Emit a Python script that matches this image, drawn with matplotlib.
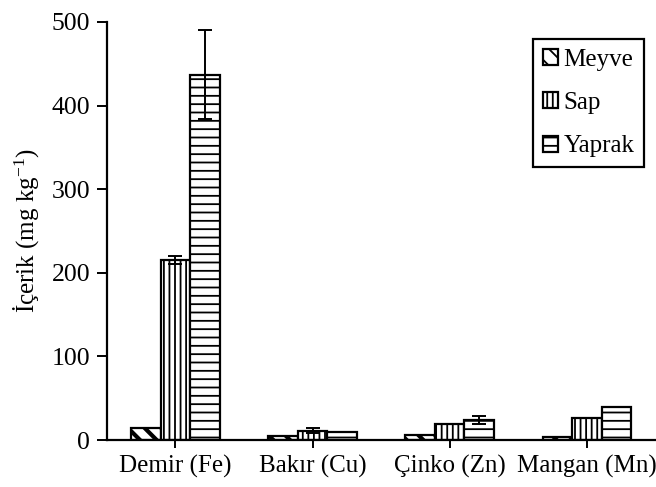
import numpy as np
import matplotlib.pyplot as plt

plt.rcParams['font.family'] = ['Liberation Serif', 'DejaVu Serif']
plt.rcParams['mathtext.fontset'] = 'custom'
plt.rcParams['mathtext.rm'] = 'Liberation Serif'
plt.rcParams['mathtext.default'] = 'regular'
plt.rcParams['hatch.linewidth'] = 1.3

elements = ['Demir (Fe)', 'Bakır (Cu)', 'Çinko (Zn)', 'Mangan (Mn)']
meyve = [14, 5, 6, 3]
sap = [215, 11, 19, 26]
yaprak = [437, 9, 24, 40]
sap_err = [5, 3, 0, 0]
yaprak_err = [53, 0, 5, 0]

fig = plt.figure(figsize=(6.56, 4.87), dpi=100)
ax = fig.add_axes([0.163, 0.0965, 0.836, 0.8585])

x = np.arange(len(elements))
width = 0.215

# thick diagonal stripes for the fruit bars
with plt.rc_context({'hatch.linewidth': 3.0}):
    ax.bar(x - width, meyve, width, color='white', edgecolor='black', linewidth=1.6,
           hatch='\\\\', label='Meyve')
ax.bar(x, sap, width, color='white', edgecolor='black', linewidth=1.6,
       hatch='|||', label='Sap')
ax.bar(x + width, yaprak, width, color='white', edgecolor='black', linewidth=1.6,
       hatch='--', label='Yaprak')

# error bars only where a deviation was given
for xs, vals, errs in [(x, sap, sap_err), (x + width, yaprak, yaprak_err)]:
    for xi, v, e in zip(xs, vals, errs):
        if e > 0:
            ax.errorbar(xi, v, yerr=e, color='black', capsize=5, elinewidth=1.4,
                        capthick=1.4, zorder=5)

ax.set_xlim(-0.5, 3.5)
ax.set_ylim(0, 500)
ax.set_yticks(np.arange(0, 501, 100))
ax.set_xticks(x)
ax.set_xticklabels(elements, fontsize=18)
ax.tick_params(axis='y', labelsize=18.5, length=7, width=1.4, direction='out', pad=5)
ax.tick_params(axis='x', length=6, width=1.4, direction='out', pad=5)
ax.spines['top'].set_visible(False)
ax.spines['right'].set_visible(False)
ax.spines['left'].set_linewidth(1.6)
ax.spines['bottom'].set_linewidth(1.6)
ax.set_ylabel('İçerik (mg kg$^{-1}$)', fontsize=18, labelpad=8)

leg = ax.legend(loc='upper right', bbox_to_anchor=(0.982, 0.920),
                bbox_transform=fig.transFigure, fontsize=18,
                handlelength=0.6, handleheight=0.6, handletextpad=0.2,
                labelspacing=0.85, borderpad=0.4, borderaxespad=0,
                fancybox=False, edgecolor='black', framealpha=1)
leg.get_frame().set_linewidth(1.6)

fig.savefig('out.png', dpi=100)
